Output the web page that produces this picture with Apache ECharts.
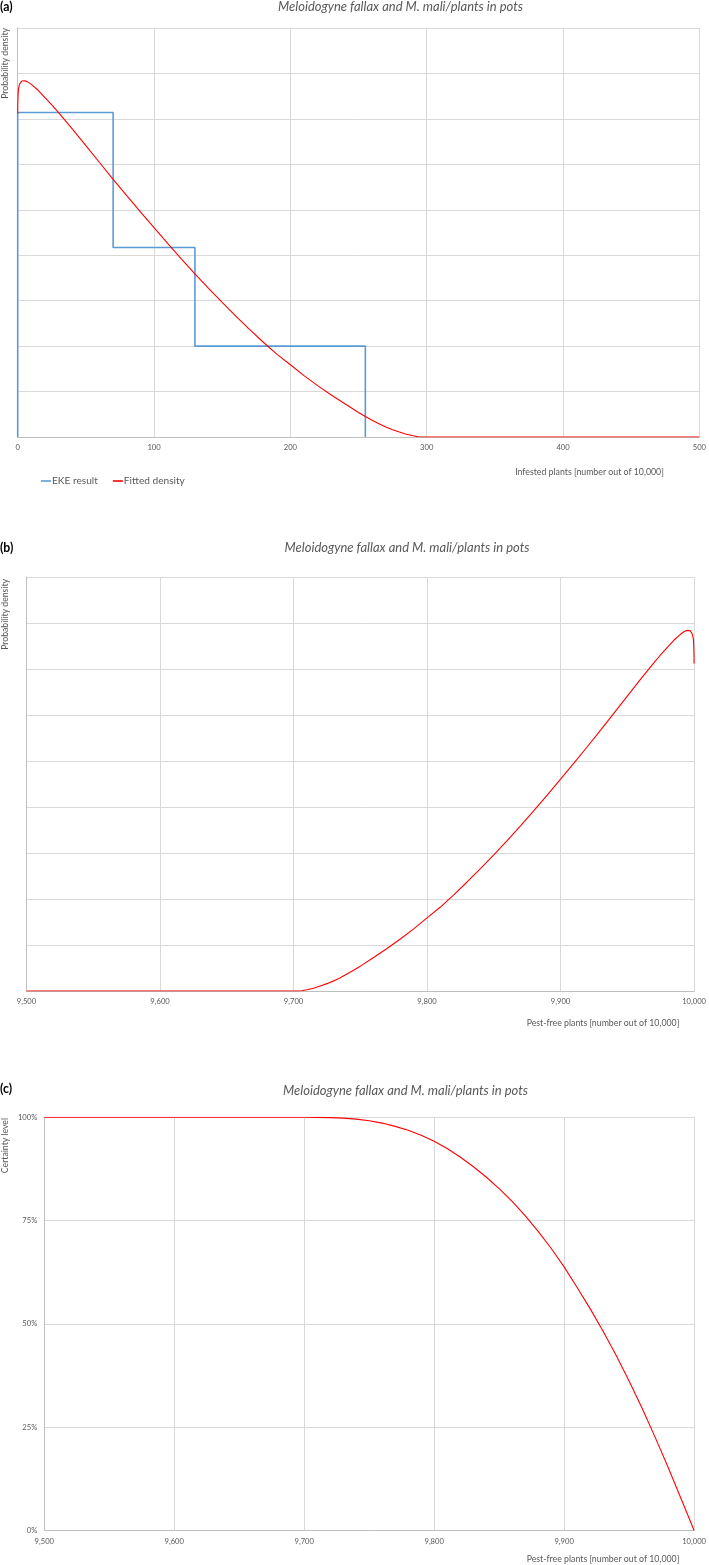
<!DOCTYPE html>
<html><head><meta charset="utf-8">
<script src="https://cdn.jsdelivr.net/npm/echarts@6/dist/echarts.min.js"></script>
<style>html,body{margin:0;padding:0;background:#fff}#c{width:709px;height:1565px}</style>
</head><body><div id="c"></div>
<script>
// ---- data ----
const chartTitle = 'Meloidogyne fallax and M. mali/plants in pots';
const panelLabels = ['(a)', '(b)', '(c)'];
const infestedTicks = [0, 100, 200, 300, 400, 500];
const pestFreeTicks = [9500, 9600, 9700, 9800, 9900, 10000];
const certaintyTicks = [0, 25, 50, 75, 100];

const ekeX = [0, 0, 70, 70, 130, 130, 255, 255];
const ekeDensity = [0, 0.00714, 0.00714, 0.00417, 0.00417, 0.002, 0.002, 0];

const fittedX = [0, 0.1, 0.3, 0.6, 1, 1.5, 2, 3, 4, 5, 7, 10, 15, 20, 25, 30, 40, 50, 60, 70, 80, 90, 100, 110, 120, 130, 140, 150, 160, 170, 180, 190, 200, 210, 220, 230, 240, 250, 255, 260, 265, 270, 275, 280, 285, 290, 294, 297, 500];
const fittedDensity = [0.00712, 0.00735, 0.00755, 0.00766, 0.00772, 0.00777, 0.0078, 0.007835, 0.007845, 0.00784, 0.00782, 0.00776, 0.00763, 0.00747, 0.00731, 0.00714, 0.00678, 0.00641, 0.00604, 0.00567, 0.00531, 0.004955, 0.004605, 0.00426, 0.00392, 0.00359, 0.00327, 0.00296, 0.00266, 0.00237, 0.00209, 0.001825, 0.00159, 0.00135, 0.00113, 0.000925, 0.00073, 0.00054, 0.00045, 0.00037, 0.00029, 0.00022, 0.00016, 0.00011, 0.000061, 0.000026, 0.000006, 0, 0];

const pestFreeX = [9500, 9703, 9706, 9710, 9715, 9720, 9725, 9730, 9735, 9740, 9745, 9750, 9760, 9770, 9780, 9790, 9800, 9810, 9820, 9830, 9840, 9850, 9860, 9870, 9880, 9890, 9900, 9910, 9920, 9930, 9940, 9950, 9960, 9970, 9975, 9980, 9985, 9990, 9993, 9995, 9996, 9997, 9998, 9998.5, 9999, 9999.4, 9999.7, 9999.9, 10000];
const pestFreeDensity = [0, 0, 0.000006, 0.000026, 0.000061, 0.00011, 0.00016, 0.00022, 0.00029, 0.00037, 0.00045, 0.00054, 0.00073, 0.000925, 0.00113, 0.00135, 0.00159, 0.001825, 0.00209, 0.00237, 0.00266, 0.00296, 0.00327, 0.00359, 0.00392, 0.00426, 0.004605, 0.004955, 0.00531, 0.00567, 0.00604, 0.00641, 0.00678, 0.00714, 0.00731, 0.00747, 0.00763, 0.00776, 0.00782, 0.00784, 0.007845, 0.007835, 0.0078, 0.00777, 0.00772, 0.00766, 0.00755, 0.00735, 0.00712];

const certaintyX = [9500, 9600, 9700, 9710, 9720, 9730, 9740, 9750, 9760, 9770, 9780, 9790, 9800, 9810, 9820, 9830, 9840, 9850, 9860, 9870, 9880, 9890, 9900, 9910, 9920, 9930, 9940, 9950, 9960, 9970, 9980, 9990, 9995, 10000];
const certaintyPct = [100, 100, 100, 99.99, 99.93, 99.8, 99.55, 99.15, 98.6, 97.8, 96.85, 95.65, 94.2, 92.45, 90.4, 88.1, 85.55, 82.75, 79.65, 76.2, 72.4, 68.3, 63.8, 58.8, 53.7, 48.2, 42.4, 36.2, 29.6, 22.6, 15.3, 7.7, 3.87, 0];

// ---- styling helpers ----
const FAM = 'Lato, "Open Sans", sans-serif';
const GRAY = '#595959';
const GRID = '#d9d9d9';
const AXIS = '#bfbfbf';
const ctx = document.createElement('canvas').getContext('2d');
function fit(text, w, style, weight) {
  ctx.font = (style || 'normal') + ' ' + (weight || 'normal') + ' 100px ' + FAM;
  return +(100 * w / ctx.measureText(text).width).toFixed(2);
}
const titleSize = fit(chartTitle, 245, 'italic');
const nameSize = fit('Infested plants [number out of 10,000]', 149);
const ynameSize = fit('Probability density', 71);
const tickSize = fit('100', 13.3);
const legendSize = fit('EKE result', 46);
const panelSize = fit('(a)', 12.5, 'normal', 'bold');

const pairs = (xs, ys) => xs.map((x, i) => [x, ys[i]]);
const fmtComma = v => Number(v).toLocaleString('en-US');

function xAx(gi, ticks, fmt) {
  return {
    gridIndex: gi, type: 'value', min: ticks[0], max: ticks[ticks.length - 1],
    interval: ticks[1] - ticks[0],
    axisLine: { show: true, onZero: false, lineStyle: { color: AXIS, width: 1 } },
    axisTick: { show: false },
    splitLine: { show: true, lineStyle: { color: GRID, width: 1 } },
    axisLabel: { color: GRAY, fontFamily: FAM, fontSize: tickSize, margin: 7, formatter: fmt, showMinLabel: true, showMaxLabel: true }
  };
}
function yAx(gi, min, max, interval, labels) {
  return {
    gridIndex: gi, type: 'value', min: min, max: max, interval: interval,
    axisLine: { show: true, lineStyle: { color: AXIS, width: 1 } },
    axisTick: { show: false },
    splitLine: { show: true, lineStyle: { color: GRID, width: 1 } },
    axisLabel: labels ? { show: true, color: GRAY, fontFamily: FAM, fontSize: tickSize, margin: 7, formatter: '{value}%' } : { show: false }
  };
}
function txt(x, y, text, size, opts) {
  opts = opts || {};
  return {
    type: 'text', x: x, y: y, rotation: opts.rot || 0, silent: true,
    style: {
      text: text, fill: opts.color || GRAY,
      font: (opts.style || 'normal') + ' ' + (opts.weight || 'normal') + ' ' + size + 'px ' + FAM,
      align: opts.align || 'center', textAlign: opts.align || 'center',
      verticalAlign: 'middle', textVerticalAlign: 'middle'
    }
  };
}

const option = {
  animation: false,
  backgroundColor: '#fff',
  grid: [
    { left: 17.7, top: 28, width: 684.6, height: 409 },
    { left: 26.5, top: 577, width: 670.5, height: 414 },
    { left: 44.3, top: 1117.3, width: 652.4, height: 413.2 }
  ],
  xAxis: [
    xAx(0, infestedTicks, v => String(v)),
    xAx(1, pestFreeTicks, fmtComma),
    xAx(2, pestFreeTicks, fmtComma)
  ],
  yAxis: [
    yAx(0, 0, 0.009, 0.001, false),
    yAx(1, 0, 0.009, 0.001, false),
    yAx(2, certaintyTicks[0], certaintyTicks[certaintyTicks.length - 1], certaintyTicks[1] - certaintyTicks[0], true)
  ],
  legend: {
    left: 36, top: 471, orient: 'horizontal', itemWidth: 10, itemHeight: 1.6, itemGap: 15,
    icon: 'rect',
    textStyle: { color: GRAY, fontFamily: FAM, fontSize: legendSize, padding: [0, 0, 0, -4] },
    data: ['EKE result', 'Fitted density']
  },
  series: [
    { name: 'EKE result', type: 'line', xAxisIndex: 0, yAxisIndex: 0, data: pairs(ekeX, ekeDensity),
      showSymbol: false, symbol: 'none', lineStyle: { color: '#5b9bd5', width: 1.6 }, itemStyle: { color: '#5b9bd5' }, z: 3 },
    { name: 'Fitted density', type: 'line', xAxisIndex: 0, yAxisIndex: 0, data: pairs(fittedX, fittedDensity),
      showSymbol: false, symbol: 'none', lineStyle: { color: '#ff0000', width: 1.1 }, itemStyle: { color: '#ff0000' }, z: 4 },
    { name: 'Fitted density b', type: 'line', xAxisIndex: 1, yAxisIndex: 1, data: pairs(pestFreeX, pestFreeDensity),
      showSymbol: false, symbol: 'none', lineStyle: { color: '#ff0000', width: 1.1 }, z: 4 },
    { name: 'Certainty', type: 'line', xAxisIndex: 2, yAxisIndex: 2, data: pairs(certaintyX, certaintyPct),
      showSymbol: false, symbol: 'none', lineStyle: { color: '#ff0000', width: 1.1 }, z: 4 }
  ],
  graphic: [
    txt(0, 7, panelLabels[0], panelSize, { align: 'left', weight: 'bold', color: '#000' }),
    txt(400.5, 7, chartTitle, titleSize, { style: 'italic' }),
    txt(5, 28, 'Probability density', ynameSize, { align: 'right', rot: Math.PI / 2 }),
    txt(589.5, 472, 'Infested plants [number out of 10,000]', nameSize),

    txt(0, 548, panelLabels[1], panelSize, { align: 'left', weight: 'bold', color: '#000' }),
    txt(407, 548, chartTitle, titleSize, { style: 'italic' }),
    txt(5, 579, 'Probability density', ynameSize, { align: 'right', rot: Math.PI / 2 }),
    txt(603, 1023, 'Pest-free plants [number out of 10,000]', nameSize),

    txt(0, 1089, panelLabels[2], panelSize, { align: 'left', weight: 'bold', color: '#000' }),
    txt(405.5, 1090.7, chartTitle, titleSize, { style: 'italic' }),
    txt(5, 1118, 'Certainty level', ynameSize, { align: 'right', rot: Math.PI / 2 }),
    txt(603, 1559, 'Pest-free plants [number out of 10,000]', nameSize)
  ]
};
const chart = echarts.init(document.getElementById('c'), null, { renderer: 'canvas' });
chart.setOption(option);
</script>
</body></html>
